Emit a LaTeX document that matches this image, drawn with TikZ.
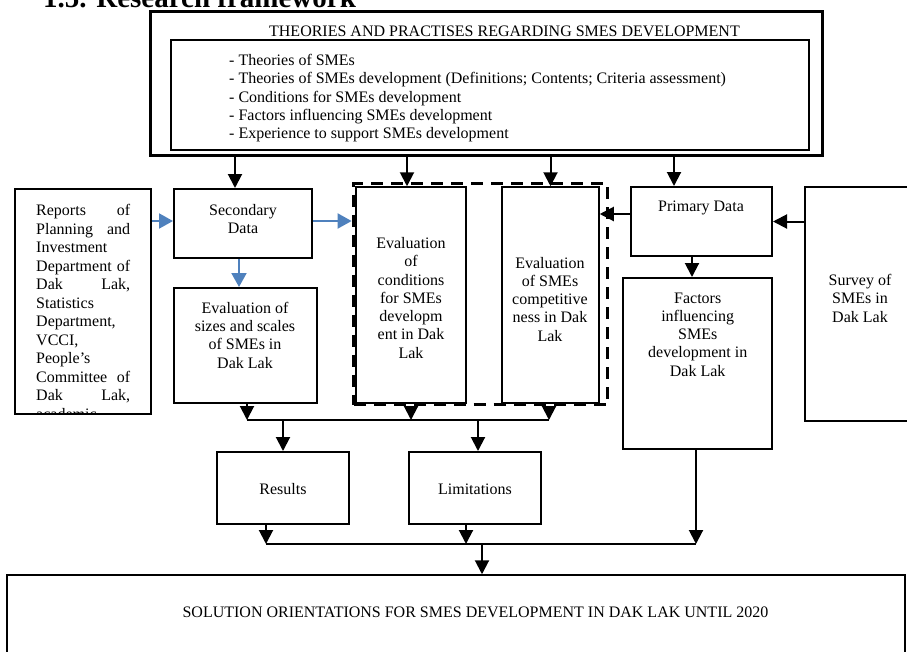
\documentclass[tikz,border=0pt]{standalone}
\usepackage{fontspec}
\setmainfont{Liberation Serif}
\usetikzlibrary{arrows.meta,calc}
\definecolor{myblue}{RGB}{79,129,189}
\begin{document}
\begin{tikzpicture}[x=1pt,y=-1pt,
  box/.style={draw, line width=2pt, inner sep=0pt},
  thinbox/.style={draw, line width=1.5pt, inner sep=0pt},
  txt/.style={font=\fontsize{16}{18.3}\selectfont, inner sep=0pt, align=center},
  arr/.style={line width=2pt, -{Triangle[width=14pt,length=14pt]}},
  barr/.style={line width=2pt, draw=myblue, -{Triangle[width=15pt,length=14pt]}},
  jl/.style={line width=1.3pt}]
\clip (0,0) rectangle (907,651);
\fill[white] (0,0) rectangle (907,651);

\node[anchor=base west, font=\fontsize{29}{32}\selectfont\bfseries, inner sep=0pt] (title) at (43,7) {1.5. Research framework};

% top box
\node[draw, line width=3pt, minimum width=672pt, minimum height=144pt, inner sep=0pt] (top) at (486,83) {};
\node[draw, line width=1.2pt, minimum width=638pt, minimum height=110pt, inner sep=0pt] (inner) at (490,95) {};
\node[txt, anchor=base] (toptitle) at (504.5,36) {THEORIES AND PRACTISES REGARDING SMES DEVELOPMENT};
\node[txt, align=left, anchor=north west] (list) at (229,54.1) {- Theories of SMEs\\
- Theories of SMEs development (Definitions; Contents; Criteria assessment)\\
- Conditions for SMEs development\\
- Factors influencing SMEs development\\
- Experience to support SMEs development};

% reports
\begin{scope}
\clip (15,189) rectangle (151,414);
\node[txt, align=left, text width=94pt, anchor=north west, font=\fontsize{16}{18.5}\selectfont] (rept) at (36,204.1) {Reports\hfill of\\
Planning\hfill and\\
Investment\\
Department\hfill of\\
Dak\hfill Lak,\\
Statistics\\
Department,\\
VCCI,\\
People’s\\
Committee\hfill of\\
Dak\hfill Lak,\\
academic};
\end{scope}
\node[box, minimum width=136pt, minimum height=225pt] (rep) at (83,301.5) {};

% secondary data
\node[box, minimum width=138pt, minimum height=69pt] (sec) at (243,223.5) {};
\node[txt, anchor=north] (sect) at (243,204.1) {Secondary\\Data};

% evaluation sizes
\node[box, minimum width=143pt, minimum height=115pt] (evs) at (245.5,345.5) {};
\node[txt, anchor=north] (evst) at (245,301.8) {Evaluation of\\sizes and scales\\of SMEs in\\Dak Lak};

% dashed group
\node[draw, line width=3.8pt, dash pattern=on 12pt off 8pt, minimum width=254pt, minimum height=221pt, inner sep=0pt] (grp) at (480.5,294) {};

\node[thinbox, minimum width=110pt, minimum height=216pt] (evc) at (411,295) {};
\node[txt, anchor=north] (evct) at (411,237.1) {Evaluation\\of\\conditions\\for SMEs\\developm\\ent in Dak\\Lak};

\node[thinbox, minimum width=97pt, minimum height=216pt] (evp) at (550.5,295) {};
\node[txt, anchor=north] (evpt) at (550,256.7) {Evaluation\\of SMEs\\competitive\\ness in Dak\\Lak};

% primary data
\node[box, minimum width=141pt, minimum height=69pt] (prim) at (701.5,221.5) {};
\node[txt, anchor=base] (primt) at (701,211.7) {Primary Data};

% factors
\node[box, minimum width=149pt, minimum height=171pt] (fac) at (697.5,363.5) {};
\node[txt, anchor=north] (fact) at (697.7,292.4) {Factors\\influencing\\SMEs\\development in\\Dak Lak};

% survey
\node[thinbox, minimum width=120pt, minimum height=234pt] (surv) at (865,304) {};
\node[txt, anchor=north] (survt) at (860,274.1) {Survey of\\SMEs in\\Dak Lak};

% results, limitations
\node[box, minimum width=132pt, minimum height=72pt] (res) at (283,488) {};
\node[txt, anchor=base] (rest) at (283,494) {Results};
\node[box, minimum width=132pt, minimum height=72pt] (lim) at (475,488) {};
\node[txt, anchor=base] (limt) at (475,494) {Limitations};

% solution
\node[thinbox, minimum width=898pt, minimum height=130pt] (sol) at (456,640) {};
\node[txt, anchor=base] (solt) at (475.5,617.5) {SOLUTION ORIENTATIONS FOR SMES DEVELOPMENT IN DAK LAK UNTIL 2020};

\coordinate (j1) at (0,420);
\coordinate (j2) at (0,544);
\coordinate (j3) at (482,544);

% connectors from top box
\draw[arr] ([xshift=-8pt]sec.north |- top.south) -- ([xshift=-8pt]sec.north);
\draw[arr] ([xshift=-4pt]evc.north |- top.south) -- ([xshift=-4pt]evc.north);
\draw[arr] (evp.north |- top.south) -- (evp.north);
\draw[arr] ([xshift=-27.5pt]prim.north |- top.south) -- ([xshift=-27.5pt]prim.north);

% blue connectors
\draw[barr] ([yshift=2.5pt]sec.west -| rep.east) -- ([yshift=2.5pt]sec.west);
\draw[barr] ([xshift=-4pt]sec.south) -- ([xshift=-4pt]sec.south |- evs.north);
\draw[barr] ([yshift=2.5pt]sec.east) -- ([yshift=2.5pt]sec.east -| grp.west);

% primary data connectors
\draw[arr] ([yshift=7.5pt]prim.west) -- ([yshift=7.5pt]prim.west -| evp.east);
\draw[arr] (prim.east -| surv.west) -- (prim.east);
\draw[arr] ([xshift=-9.5pt]prim.south) -- ([xshift=-9.5pt]prim.south |- fac.north);

% lower connectors
\draw[arr] ([xshift=1.5pt]evs.south) -- ([xshift=1.5pt]evs.south |- j1);
\draw[arr] (evc.south |- grp.south) -- (evc.south |- j1);
\draw[arr] ([xshift=-1.5pt]evp.south |- grp.south) -- ([xshift=-1.5pt]evp.south |- j1);
\draw[jl] ([xshift=1.5pt]evs.south |- j1) -- ([xshift=-1.5pt]evp.south |- j1);
\draw[arr] (res.north |- j1) -- (res.north);
\draw[arr] ([xshift=3pt]lim.north |- j1) -- ([xshift=3pt]lim.north);
\draw[arr] ([xshift=-17pt]res.south) -- ([xshift=-17pt]res.south |- j2);
\draw[arr] ([xshift=-9pt]lim.south) -- ([xshift=-9pt]lim.south |- j2);
\draw[arr] ([xshift=-1.5pt]fac.south) -- ([xshift=-1.5pt]fac.south |- j2);
\draw[jl] ([xshift=-17pt]res.south |- j2) -- ([xshift=-1.5pt]fac.south |- j2);
\draw[arr] (j3) -- (j3 |- sol.north);
\end{tikzpicture}
\end{document}
